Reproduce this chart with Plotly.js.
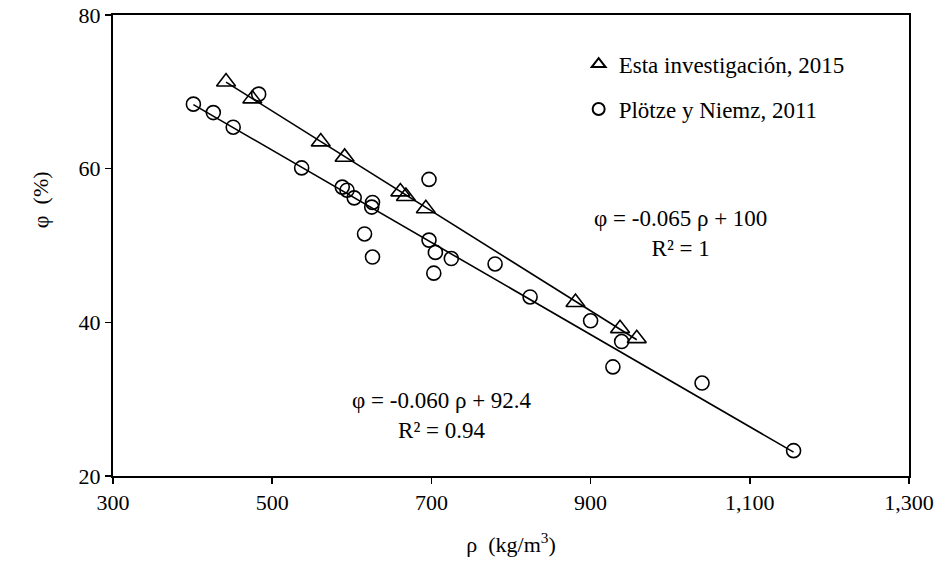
<!DOCTYPE html>
<html>
<head>
<meta charset="utf-8">
<script src="https://cdn.plot.ly/plotly-3.0.1.min.js"></script>
<style>html,body{margin:0;padding:0;background:#fff;}#chart{width:937px;height:569px;}</style>
</head>
<body>
<div id="chart"></div>
<script>
// Esta investigación, 2015 (triangles)
const estaRho = [442, 475, 561, 591, 661, 668, 693, 881, 937, 958];
const estaPhi = [71.3, 69.1, 63.5, 61.5, 57.0, 56.4, 54.8, 42.6, 39.2, 37.9];
// Plötze y Niemz, 2011 (circles)
const plotzeRho = [401, 426, 451, 483, 537, 588, 594, 603, 626, 625, 616, 626, 697, 697, 705, 703, 725, 780, 824, 900, 939, 928, 1040, 1155];
const plotzePhi = [68.4, 67.3, 65.4, 69.7, 60.1, 57.6, 57.2, 56.2, 55.6, 55.0, 51.5, 48.5, 58.6, 50.7, 49.1, 46.4, 48.3, 47.6, 43.3, 40.2, 37.5, 34.2, 32.1, 23.3];
// Trendline coefficients as printed on the chart
const estaFit = {slope: -0.065, intercept: 100};
const plotzeFit = {slope: -0.060, intercept: 92.4};
const xTicks = [300, 500, 700, 900, 1100, 1300];
const xTickText = ['300', '500', '700', '900', '1,100', '1,300'];
const yTicks = [20, 40, 60, 80];

function fitLine(xs, fit) {
  const x0 = Math.min(...xs), x1 = Math.max(...xs);
  return {x: [x0, x1], y: [fit.slope * x0 + fit.intercept, fit.slope * x1 + fit.intercept]};
}
const l1 = fitLine(estaRho, estaFit);
const l2 = fitLine(plotzeRho, plotzeFit);

const FONT = 'Liberation Serif, Times New Roman, serif';
const traces = [
  {x: l1.x, y: l1.y, mode: 'lines', line: {color: '#000', width: 1.6}, showlegend: false, hoverinfo: 'skip'},
  {x: l2.x, y: l2.y, mode: 'lines', line: {color: '#000', width: 1.6}, showlegend: false, hoverinfo: 'skip'},
  {x: estaRho, y: estaPhi, mode: 'markers', name: 'Esta investigación, 2015', legendgroup: 'a',
   marker: {symbol: 'triangle-up-open', size: 16.5, color: '#000', line: {width: 1.6, color: '#000'}}},
  {x: plotzeRho, y: plotzePhi, mode: 'markers', name: 'Plötze y Niemz, 2011', legendgroup: 'b',
   marker: {symbol: 'circle-open', size: 14, color: '#000', line: {width: 1.6, color: '#000'}}}
];

const layout = {
  width: 937, height: 569,
  margin: {l: 113, r: 28, t: 15, b: 93},
  paper_bgcolor: '#fff', plot_bgcolor: '#fff',
  font: {family: FONT, size: 21, color: '#000'},
  showlegend: true,
  legend: {x: 0.585, y: 0.94, xanchor: 'left', yanchor: 'top', font: {family: FONT, size: 23, color: '#000'},
           traceorder: 'grouped', tracegroupgap: 12, itemsizing: 'constant', bgcolor: 'rgba(0,0,0,0)'},
  xaxis: {range: [300, 1300], tickvals: xTicks, ticktext: xTickText, showgrid: false, zeroline: false,
          showline: true, linecolor: '#000', linewidth: 2, mirror: true, ticks: 'outside', ticklen: 6,
          tickcolor: '#000', tickwidth: 1.5, tickfont: {family: FONT, size: 22},
          title: {text: 'ρ&nbsp; (kg/m<sup>3</sup>)', font: {family: FONT, size: 22}, standoff: 22}},
  yaxis: {range: [20, 80], tickvals: yTicks, showgrid: false, zeroline: false,
          showline: true, linecolor: '#000', linewidth: 2, mirror: true, ticks: 'outside', ticklen: 6,
          tickcolor: '#000', tickwidth: 1.5, tickfont: {family: FONT, size: 22}},
  annotations: [
    {xref: 'paper', yref: 'paper', x: -0.109, y: 0.60, text: 'φ&nbsp; (%)', textangle: -90, showarrow: false,
     font: {family: FONT, size: 22}},
    {xref: 'x', yref: 'y', x: 1013, y: 51.5, text: 'φ = -0.065 ρ + 100<br>R² = 1', showarrow: false,
     font: {family: FONT, size: 23}, align: 'center'},
    {xref: 'x', yref: 'y', x: 713, y: 27.9, text: 'φ = -0.060 ρ + 92.4<br>R² = 0.94', showarrow: false,
     font: {family: FONT, size: 23}, align: 'center'}
  ]
};
Plotly.newPlot('chart', traces, layout, {displayModeBar: false, staticPlot: true});
</script>
</body>
</html>
